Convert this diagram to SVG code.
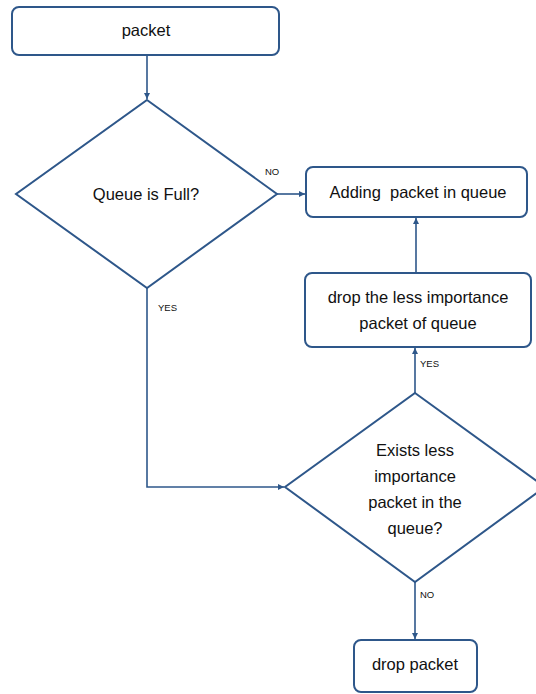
<svg xmlns="http://www.w3.org/2000/svg" width="536" height="694" viewBox="0 0 536 694">
<defs>
<style>
.box{fill:#fff;stroke:#2e578a;stroke-width:2}
.t{font-family:"Liberation Sans",Arial,sans-serif;font-size:16.5px;fill:#111;text-anchor:middle;white-space:pre}
.s{font-family:"Liberation Sans",Arial,sans-serif;font-size:9.5px;fill:#111}
.c{fill:none;stroke:#2e578a;stroke-width:1.6}
</style>
<marker id="a" viewBox="0 0 10 10" refX="10" refY="5" markerWidth="6" markerHeight="6" orient="auto" markerUnits="userSpaceOnUse"><path d="M0,0 L10,5 L0,10 z" fill="#2e578a"/></marker>
</defs>
<rect width="536" height="694" fill="#fff"/>
<g id="connectors">
<path class="c" d="M147,55 V99" marker-end="url(#a)"/>
<path class="c" d="M277,194 H305" marker-end="url(#a)"/>
<path class="c" d="M416,273 V218" marker-end="url(#a)"/>
<path class="c" d="M415,393 V348" marker-end="url(#a)"/>
<path class="c" d="M147,288 V487 H284" marker-end="url(#a)"/>
<path class="c" d="M415,582 V639" marker-end="url(#a)"/>
<text class="s" x="265" y="175">NO</text>
<text class="s" x="158" y="311">YES</text>
<text class="s" x="420" y="367">YES</text>
<text class="s" x="420" y="598">NO</text>
</g>
<g id="n1"><rect class="box" x="12" y="7" width="267" height="48" rx="7"/><text class="t" x="146" y="36">packet</text></g>
<g id="n2"><polygon class="box" points="147,100 277,194 147,288 16,194"/><text class="t" x="146" y="200">Queue is Full?</text></g>
<g id="n3"><rect class="box" x="306" y="167" width="221" height="50" rx="7"/><text class="t" x="418" y="198" xml:space="preserve">Adding  packet in queue</text></g>
<g id="n4"><rect class="box" x="305" y="273" width="226" height="74" rx="7"/><text class="t" x="418" y="303">drop the less importance</text><text class="t" x="418" y="329">packet of queue</text></g>
<g id="n5"><polygon class="box" points="415,393 545,487 415,582 285,487"/><text class="t" x="415" y="456">Exists less</text><text class="t" x="415" y="482">importance</text><text class="t" x="415" y="508">packet in the</text><text class="t" x="415" y="534">queue?</text></g>
<g id="n6"><rect class="box" x="354" y="640" width="123" height="52" rx="7"/><text class="t" x="415" y="670">drop packet</text></g>
</svg>
